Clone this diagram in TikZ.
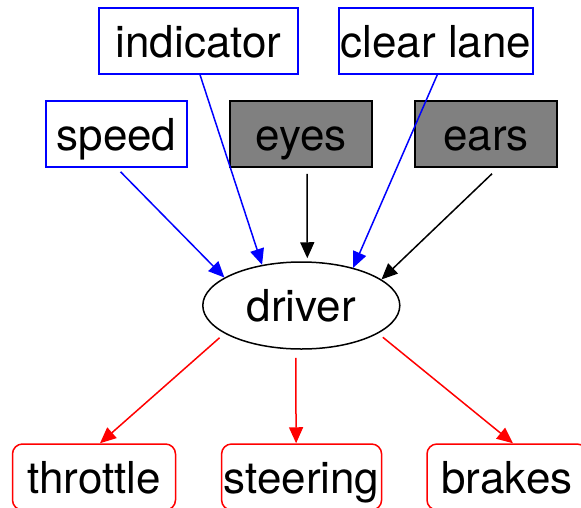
\documentclass[tikz,border=0pt]{standalone}
\usepackage{fontspec}
\setmainfont{TeX Gyre Heros}
\usetikzlibrary{arrows.meta,shapes.geometric}

\begin{document}
\begin{tikzpicture}[x=1pt,y=-1pt,
    font=\fontsize{44pt}{50pt}\selectfont,
    >={Triangle[length=16pt,width=14pt]},
    every node/.style={inner sep=0pt,text height=32pt,text depth=0pt},
    invoer/.style={draw=blue,line width=1.5pt,minimum height=66pt},
    zintuig/.style={draw=black,fill=gray,line width=1.5pt,minimum width=142pt,minimum height=66pt},
    uitvoer/.style={draw=red,line width=1.5pt,rounded corners=10pt,minimum height=66pt},
    pijl/.style={->,line width=1.5pt}]
    \useasboundingbox (0,0) rectangle (581,507);
    \clip (0,0) rectangle (581,507);

    % Invoer bovenaan
    \node[invoer, minimum width=199pt] (indicator) at (198.5,41) {indicator};
    \node[invoer, minimum width=194pt] (lane) at (436,41) {clear lane};
    \node[invoer, minimum width=141pt] (speed) at (116.5,134) {speed};
    \node[zintuig] (eyes) at (301,134) {eyes};
    \node[zintuig] (ears) at (486,134) {ears};

    % De bestuurder in het midden
    \node[draw, ellipse, line width=1.5pt, minimum width=197pt, minimum height=87pt] (driver) at (301.3,305.5) {driver};

    % Uitvoer onderaan
    \node[uitvoer, minimum width=163pt] (throttle) at (94,477) {throttle};
    \node[uitvoer, minimum width=160pt] (steering) at (301.6,477) {steering};
    \node[uitvoer, minimum width=160pt] (brakes) at (507,477) {brakes};

    % Pijlen naar de bestuurder
    \draw[pijl, blue] ([xshift=4pt,yshift=-4pt]speed.south) -- (driver.160);
    \draw[pijl, blue] ([xshift=1.5pt]indicator.south) -- (driver.134);
    \draw[pijl] ([xshift=6pt,yshift=-6pt]eyes.south) -- ([xshift=6pt,yshift=3pt]driver.north);
    \draw[pijl, blue] ([xshift=1.3pt]lane.south) -- (driver.36);
    \draw[pijl] ([xshift=6pt,yshift=-6pt]ears.south) -- (driver.18);

    % Pijlen van de bestuurder
    \draw[pijl, red, shorten <=6.5pt] (driver.200) -- ([xshift=6pt]throttle.north);
    \draw[pijl, red] ([xshift=-5.5pt,yshift=-8pt]driver.south) -- ([xshift=-5.5pt]steering.north);
    \draw[pijl, red, shorten <=6pt] (driver.340) -- ([xshift=6pt]brakes.north);
\end{tikzpicture}
\end{document}
